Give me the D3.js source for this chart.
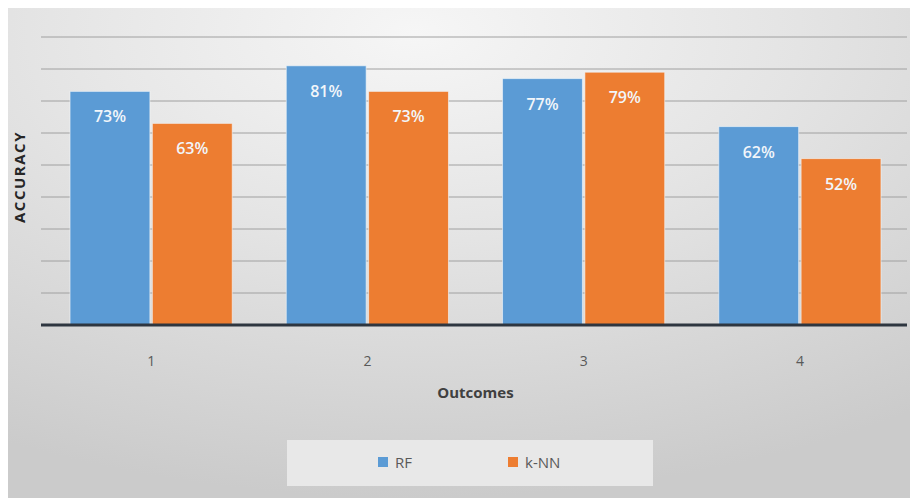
<!DOCTYPE html>
<html><head><meta charset="utf-8">
<script src="https://cdn.jsdelivr.net/npm/d3@7"></script>
<style>html,body{margin:0;padding:0;background:#fff;}svg{display:block;}</style>
</head><body>
<svg id="c" width="910" height="498"></svg>
<script>
const categories = ["1","2","3","4"];
const seriesNames = ["RF","k-NN"];
const rfValues = [73,81,77,62];
const knnValues = [63,73,79,52];
const yTicks = [0,10,20,30,40,50,60,70,80,90];
const colors = ["#5b9bd5","#ed7d31"];

const svg = d3.select("#c");
const W = 910, H = 498;
const defs = svg.append("defs");
const rg = defs.append("radialGradient").attr("id","bg").attr("cx","0.45").attr("cy","0.05").attr("r","0.95")
  .attr("gradientUnits","objectBoundingBox");
rg.append("stop").attr("offset","0").attr("stop-color","#f6f6f6");
rg.append("stop").attr("offset","0.45").attr("stop-color","#e4e4e4");
rg.append("stop").attr("offset","1").attr("stop-color","#cbcbcb");
svg.append("rect").attr("x",8).attr("y",8).attr("width",W-8).attr("height",H-8).attr("fill","url(#bg)");

const left = 43, right = 908, y0 = 325, yTop = 37;
const x0 = d3.scaleBand().domain(categories).range([left,right]).paddingInner(0.25).paddingOuter(0.125);
const x1 = d3.scaleBand().domain(seriesNames).range([0,x0.bandwidth()]).paddingInner(0.03);
const y = d3.scaleLinear().domain([0,90]).range([y0,yTop]);

// gridlines
svg.append("g").selectAll("line").data(yTicks.filter(d=>d>0)).join("line")
  .attr("x1",41).attr("x2",907).attr("y1",d=>y(d)).attr("y2",d=>y(d))
  .attr("stroke","#a0a0a0").attr("stroke-width",1);

const rows = categories.map((c,i)=>({cat:c, vals:[rfValues[i],knnValues[i]]}));
const g = svg.append("g");
rows.forEach(r=>{
  r.vals.forEach((v,j)=>{
    const bx = x0(r.cat)+x1(seriesNames[j]);
    g.append("rect").attr("x",bx).attr("y",y(v)).attr("width",x1.bandwidth()).attr("height",y0-y(v))
      .attr("fill",colors[j]).attr("stroke","#f4f8fc").attr("stroke-opacity",0.6).attr("stroke-width",1);
    g.append("text").attr("x",bx+x1.bandwidth()/2).attr("y",y(v)+31).attr("text-anchor","middle")
      .attr("font-family","'Open Sans', sans-serif").attr("font-size",16).attr("font-weight",600)
      .attr("fill","#f2f6fa").text(v+"%");
  });
});

// baseline
svg.append("line").attr("x1",41).attr("x2",907).attr("y1",y0).attr("y2",y0).attr("stroke","#2e3640").attr("stroke-width",3);

// x axis labels
const xa = svg.append("g").attr("transform",`translate(0,${y0})`).call(d3.axisBottom(x0).tickSize(0).tickPadding(0));
xa.select(".domain").remove();
xa.selectAll("text").attr("y",41).attr("dy",0).attr("font-family","'Open Sans', sans-serif").attr("font-size",14).attr("fill","#595959");

svg.append("text").attr("x",(left+right)/2).attr("y",398).attr("text-anchor","middle")
  .attr("font-family","'Open Sans', sans-serif").attr("font-size",15).attr("font-weight",700).attr("fill","#404040").text("Outcomes");

svg.append("text").attr("transform","translate(25,177) rotate(-90)").attr("text-anchor","middle")
  .attr("font-family","'Open Sans', sans-serif").attr("font-size",15).attr("font-weight",700).attr("letter-spacing",1.5)
  .attr("fill","#262626").text("ACCURACY");

// legend
svg.append("rect").attr("x",287).attr("y",440).attr("width",366).attr("height",46).attr("fill","#e8e8e8");
const legX = [378,508];
seriesNames.forEach((s,i)=>{
  svg.append("rect").attr("x",legX[i]).attr("y",457).attr("width",10).attr("height",10).attr("fill",colors[i]);
  svg.append("text").attr("x",legX[i]+17).attr("y",468).attr("font-family","'Open Sans', sans-serif")
    .attr("font-size",15).attr("fill","#595959").text(s);
});
</script>
</body></html>
